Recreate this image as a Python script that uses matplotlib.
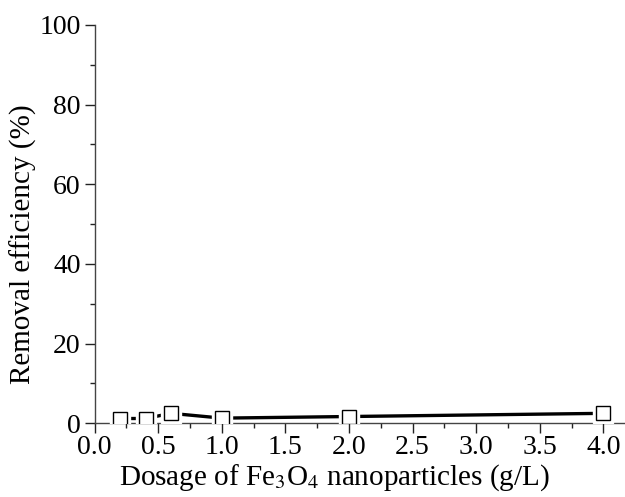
import matplotlib
matplotlib.use("Agg")
import matplotlib.pyplot as plt  # noqa: E402
from matplotlib.ticker import MultipleLocator, FormatStrFormatter  # noqa: E402

# dosage (g/L) vs removal efficiency (%)
dosage = [0.2, 0.4, 0.6, 1.0, 2.0, 4.0]
removal = [1.2, 1.2, 2.5, 1.3, 1.7, 2.5]

plt.rcParams["font.family"] = ["Liberation Serif", "DejaVu Serif"]
plt.rcParams["mathtext.fontset"] = "stix"

fig = plt.figure(figsize=(6.25, 4.97), dpi=100)
ax = fig.add_axes([0.1515, 0.1483, 0.8485, 0.8014])

ax.plot(dosage, removal, color="black", lw=2.4, zorder=2, solid_capstyle="round")
# white squares underneath make the gaps between line and markers
ax.plot(dosage, removal, ls="none", marker="s", ms=15, mfc="white", mec="white",
        zorder=3)
ax.plot(dosage, removal, ls="none", marker="s", ms=10, mfc="white", mec="black",
        mew=1.0, zorder=4)

ax.set_xlim(0, 4.17)
ax.set_ylim(0, 100)
ax.xaxis.set_major_locator(MultipleLocator(0.5))
ax.xaxis.set_minor_locator(MultipleLocator(0.25))
ax.xaxis.set_major_formatter(FormatStrFormatter("%.1f"))
ax.yaxis.set_major_locator(MultipleLocator(20))
ax.yaxis.set_minor_locator(MultipleLocator(10))

for side in ("top", "right"):
    ax.spines[side].set_visible(False)
for side in ("left", "bottom"):
    ax.spines[side].set_color("#444444")
    ax.spines[side].set_linewidth(1.0)

ax.tick_params(which="major", direction="out", length=7, width=1.0, labelsize=20,
               color="#222222")
ax.tick_params(axis="x", which="major", pad=1.5)
ax.tick_params(axis="y", which="major", pad=3)
ax.tick_params(which="minor", direction="out", length=3.5, width=1.0,
               color="#222222")

ax.set_xlabel(r"Dosage of Fe$_3$O$_4$ nanoparticles (g/L)", fontsize=21)
ax.set_ylabel("Removal efficiency (%)", fontsize=21)
ax.xaxis.set_label_coords(0.452, -0.137)
ax.xaxis.label.set_verticalalignment("center")
ax.yaxis.set_label_coords(-0.135, 0.45)
ax.yaxis.label.set_verticalalignment("center")

fig.savefig("out.png", dpi=100)
